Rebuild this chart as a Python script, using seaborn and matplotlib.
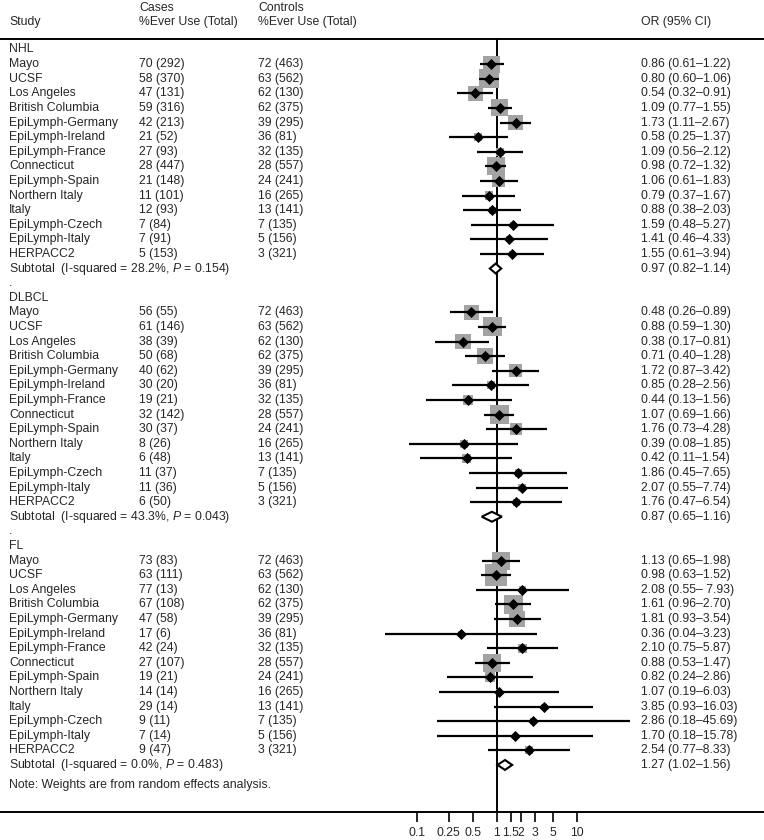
import numpy as np
import pandas as pd
import matplotlib
matplotlib.use('Agg')
import matplotlib.pyplot as plt
import matplotlib.ticker as mticker
import seaborn as sns

# Study rows (same order in every subtype)
studies = ["Mayo", "UCSF", "Los Angeles", "British Columbia", "EpiLymph-Germany",
           "EpiLymph-Ireland", "EpiLymph-France", "Connecticut", "EpiLymph-Spain",
           "Northern Italy", "Italy", "EpiLymph-Czech", "EpiLymph-Italy", "HERPACC2"]
groups = ["NHL", "DLBCL", "FL"]

# controls are shared by all subtypes
ctrl_pct = [72, 63, 62, 62, 39, 36, 32, 28, 24, 16, 13, 7, 5, 3]
ctrl_n = [463, 562, 130, 375, 295, 81, 135, 557, 241, 265, 141, 135, 156, 321]

# NHL
nhl_pct = [70, 58, 47, 59, 42, 21, 27, 28, 21, 11, 12, 7, 7, 5]
nhl_n = [292, 370, 131, 316, 213, 52, 93, 447, 148, 101, 93, 84, 91, 153]
nhl_or = [0.86, 0.80, 0.54, 1.09, 1.73, 0.58, 1.09, 0.98, 1.06, 0.79, 0.88, 1.59, 1.41, 1.55]
nhl_lo = [0.61, 0.60, 0.32, 0.77, 1.11, 0.25, 0.56, 0.72, 0.61, 0.37, 0.38, 0.48, 0.46, 0.61]
nhl_hi = [1.22, 1.06, 0.91, 1.55, 2.67, 1.37, 2.12, 1.32, 1.83, 1.67, 2.03, 5.27, 4.33, 3.94]
nhl_w = [13.1, 16.9, 9.9, 13.1, 9.9, 2.9, 2.9, 15.0, 7.1, 2.9, 2.1, 1.5, 1.5, 1.5]

# DLBCL
dlbcl_pct = [56, 61, 38, 50, 40, 30, 19, 32, 30, 8, 6, 11, 11, 6]
dlbcl_n = [55, 146, 39, 68, 62, 20, 21, 142, 37, 26, 48, 37, 36, 50]
dlbcl_or = [0.48, 0.88, 0.38, 0.71, 1.72, 0.85, 0.44, 1.07, 1.76, 0.39, 0.42, 1.86, 2.07, 1.76]
dlbcl_lo = [0.26, 0.59, 0.17, 0.40, 0.87, 0.28, 0.13, 0.69, 0.73, 0.08, 0.11, 0.45, 0.55, 0.47]
dlbcl_hi = [0.89, 1.30, 0.81, 1.28, 3.42, 2.56, 1.56, 1.66, 4.28, 1.85, 1.54, 7.65, 7.74, 6.54]
dlbcl_w = [10.7, 16.3, 10.7, 10.7, 7.7, 3.1, 4.1, 16.3, 6.4, 3.1, 4.1, 2.3, 2.3, 2.3]

# FL
fl_pct = [73, 63, 77, 67, 47, 17, 42, 27, 19, 14, 29, 9, 7, 9]
fl_n = [83, 111, 13, 108, 58, 6, 24, 107, 21, 14, 14, 11, 14, 47]
fl_or = [1.13, 0.98, 2.08, 1.61, 1.81, 0.36, 2.10, 0.88, 0.82, 1.07, 3.85, 2.86, 1.70, 2.54]
fl_lo = [0.65, 0.63, 0.55, 0.96, 0.93, 0.04, 0.75, 0.53, 0.24, 0.19, 0.93, 0.18, 0.18, 0.77]
fl_hi = [1.98, 1.52, 7.93, 2.70, 3.54, 3.23, 5.87, 1.47, 2.86, 6.03, 16.03, 45.69, 15.78, 8.33]
fl_w = [14.7, 22.9, 2.1, 16.6, 11.2, 1.4, 3.7, 14.7, 4.6, 1.4, 1.4, 1.4, 0.9, 2.8]

# pooled estimates
sub_or = [0.97, 0.87, 1.27]
sub_lo = [0.82, 0.65, 1.02]
sub_hi = [1.14, 1.16, 1.56]
sub_i2 = [28.2, 43.3, 0.0]
sub_p = [0.154, 0.043, 0.483]

xticks = [0.1, 0.25, 0.5, 1, 1.5, 2, 3, 5, 10]
xtick_labels = ["0.1", "0.25", "0.5", "1", "1.5", "2", "3", "5", "10"]

per_group = [
    (nhl_pct, nhl_n, nhl_or, nhl_lo, nhl_hi, nhl_w),
    (dlbcl_pct, dlbcl_n, dlbcl_or, dlbcl_lo, dlbcl_hi, dlbcl_w),
    (fl_pct, fl_n, fl_or, fl_lo, fl_hi, fl_w),
]

rows = []
for g, (pct, n, orr, lo, hi, w) in enumerate(per_group):
    base = 17 * g
    for i, s in enumerate(studies):
        rows.append(dict(group=groups[g], study=s, row=base + 1 + i,
                         cases=f"{pct[i]} ({n[i]})", controls=f"{ctrl_pct[i]} ({ctrl_n[i]})",
                         odds=orr[i], lo=lo[i], hi=hi[i], weight=w[i]))
df = pd.DataFrame(rows)
df["area"] = df["weight"] * 11.5

sns.set_style("white")
plt.rcParams['font.family'] = ['Liberation Sans', 'DejaVu Sans']
plt.rcParams['mathtext.fontset'] = 'custom'
plt.rcParams['mathtext.rm'] = 'Liberation Sans'
plt.rcParams['mathtext.it'] = 'Liberation Sans:italic'
fs = 8.8

fig = plt.figure(figsize=(7.64, 8.4), dpi=100)
ax = fig.add_axes([0, 0, 1, 1])
ax.set_xscale('log')
ax.set_xlim(10 ** -6.209, 10 ** 3.341)
ax.set_ylim(54.14, -3.39)
top_y, bot_y = -0.72, 52.23

# reference line at OR = 1
ax.plot([1, 1], [top_y, bot_y], color='black', lw=1.4, zorder=1)

amin, amax = df["area"].min(), df["area"].max()
sns.scatterplot(data=df, x="odds", y="row", size="area", sizes=(amin, amax),
                size_norm=(amin, amax), marker='s', color='#a3a3a3',
                linewidth=0, legend=False, ax=ax, zorder=2)
ax.hlines(df["row"], df["lo"], df["hi"], color='black', lw=1.6, zorder=3)
sns.scatterplot(data=df, x="odds", y="row", marker='D', color='black', s=32,
                linewidth=0, legend=False, ax=ax, zorder=4)

# pooled diamonds
h = 0.34
for g in range(3):
    r = 17 * g + 15
    ax.fill([sub_lo[g], sub_or[g], sub_hi[g], sub_or[g]], [r, r - h, r, r + h],
            facecolor='white', edgecolor='black', lw=1.5, zorder=5)

tr = ax.get_yaxis_transform()  # x in axes fraction, y in data
xs, xc, xk, xo = 9 / 764, 139 / 764, 258 / 764, 641 / 764

# headers
ax.text(xc, -2.84, "Cases", transform=tr, fontsize=fs, va='center')
ax.text(xk, -2.84, "Controls", transform=tr, fontsize=fs, va='center')
ax.text(xs, -1.88, "Study", transform=tr, fontsize=fs, va='center')
ax.text(xc, -1.88, "%Ever Use (Total)", transform=tr, fontsize=fs, va='center')
ax.text(xk, -1.88, "%Ever Use (Total)", transform=tr, fontsize=fs, va='center')
ax.text(xo, -1.88, "OR (95% CI)", transform=tr, fontsize=fs, va='center')

for _, d in df.iterrows():
    ax.text(xs, d.row, d.study, transform=tr, fontsize=fs, va='center')
    ax.text(xc, d.row, d.cases, transform=tr, fontsize=fs, va='center')
    ax.text(xk, d.row, d.controls, transform=tr, fontsize=fs, va='center')
    lo_s = f"{d.lo:.2f}"
    hi_s = f"{d.hi:.2f}"
    if d.group == "FL" and d.study == "Los Angeles":
        hi_s = " " + hi_s
    ax.text(xo, d.row, f"{d.odds:.2f} ({lo_s}–{hi_s})", transform=tr,
            fontsize=fs, va='center')

for g in range(3):
    base = 17 * g
    ax.text(xs, base, groups[g], transform=tr, fontsize=fs, va='center')
    ax.text(xs, base + 15,
            f"Subtotal  (I-squared = {sub_i2[g]:.1f}%, $\\it{{P}}$ = {sub_p[g]:.3f})",
            transform=tr, fontsize=fs, va='center')
    ax.text(xo, base + 15, f"{sub_or[g]:.2f} ({sub_lo[g]:.2f}–{sub_hi[g]:.2f})",
            transform=tr, fontsize=fs, va='center')
    if g < 2:
        ax.text(xs, base + 16, ".", transform=tr, fontsize=fs, va='center')

ax.text(xs, 50.38, "Note: Weights are from random effects analysis.",
        transform=tr, fontsize=fs, va='center')

# axis lines
for side in ['left', 'right']:
    ax.spines[side].set_visible(False)
ax.spines['top'].set_position(('data', top_y))
ax.spines['bottom'].set_position(('data', bot_y))
for side in ['top', 'bottom']:
    ax.spines[side].set_linewidth(1.4)
    ax.spines[side].set_color('black')
ax.set_yticks([])
ax.set_xticks(xticks, xtick_labels)
ax.xaxis.set_minor_locator(mticker.NullLocator())
ax.tick_params(axis='x', direction='out', length=7.2, width=1.4, pad=3.5,
               labelsize=fs, bottom=True, top=False)
ax.set_xlabel("")
ax.set_ylabel("")

fig.savefig("out.png", dpi=100)
